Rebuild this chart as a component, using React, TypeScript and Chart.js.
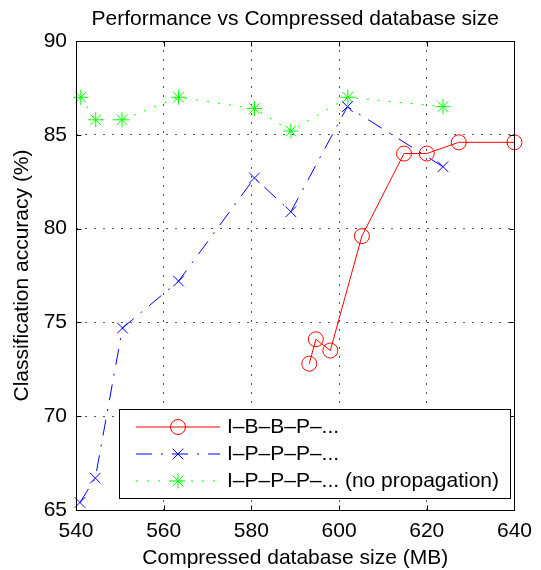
import React, { useEffect, useRef } from "react";
import { Chart, registerables } from "chart.js";

Chart.register(...registerables);

const chartTitle = "Performance vs Compressed database size";
const xAxisTitle = "Compressed database size (MB)";
const yAxisTitle = "Classification accuracy (%)";

const xTicks = [540, 560, 580, 600, 620, 640];
const yTicks = [65, 70, 75, 80, 85, 90];

const seriesLabels = [
  "I\u2013B\u2013B\u2013P\u2013...",
  "I\u2013P\u2013P\u2013P\u2013...",
  "I\u2013P\u2013P\u2013P\u2013... (no propagation)",
];

const ibbpSize = [593.2, 594.7, 598.0, 605.2, 614.8, 620.0, 627.3, 640.0];
const ibbpAcc = [72.8, 74.1, 73.5, 79.6, 84.0, 84.0, 84.6, 84.6];

const ipppSize = [540.9, 544.4, 550.6, 563.4, 580.7, 589.0, 601.9, 623.7];
const ipppAcc = [65.4, 66.7, 74.7, 77.2, 82.7, 80.9, 86.5, 83.3];

const noPropSize = [541.1, 544.5, 550.5, 563.4, 580.7, 589.0, 602.0, 623.7];
const noPropAcc = [87.0, 85.8, 85.8, 87.0, 86.4, 85.2, 87.0, 86.5];

const FONT = "'Liberation Sans', Arial, Helvetica, sans-serif";
const FS = 21;

const toPoints = (xs: number[], ys: number[]) => xs.map((x, i) => ({ x, y: ys[i] }));

const styles = [
  { color: "#ff0000", dash: [] as number[], marker: "circle" },
  { color: "#0000ff", dash: [16, 9, 2, 9], marker: "crossRot" },
  { color: "#00ff00", dash: [2, 9], marker: "star" },
];

function drawMarker(ctx: CanvasRenderingContext2D, kind: string, x: number, y: number, r: number, color: string) {
  ctx.save();
  ctx.strokeStyle = color;
  ctx.lineWidth = 1;
  ctx.setLineDash([]);
  ctx.beginPath();
  if (kind === "circle") {
    ctx.arc(x, y, r, 0, Math.PI * 2);
  } else {
    const d = r * Math.cos(Math.PI / 4);
    ctx.moveTo(x - d, y - d); ctx.lineTo(x + d, y + d);
    ctx.moveTo(x - d, y + d); ctx.lineTo(x + d, y - d);
    if (kind === "star") {
      ctx.moveTo(x - r, y); ctx.lineTo(x + r, y);
      ctx.moveTo(x, y - r); ctx.lineTo(x, y + r);
    }
  }
  ctx.stroke();
  ctx.restore();
}

const framePlugin = {
  id: "frameAndLegend",
  afterDraw(chart: any) {
    const { ctx, chartArea } = chart;
    const { left, right, top, bottom } = chartArea;
    const xs = chart.scales.x;
    const ys = chart.scales.y;
    ctx.save();
    ctx.strokeStyle = "#000";
    ctx.lineWidth = 1;
    ctx.setLineDash([]);
    const L = Math.round(left) + 0.5, R = Math.round(right) + 0.5;
    const T = Math.round(top) + 0.5, B = Math.round(bottom) + 0.5;
    ctx.strokeRect(L, T, R - L, B - T);
    const tl = 5;
    ctx.beginPath();
    xs.ticks.forEach((t: any) => {
      const px = Math.round(xs.getPixelForValue(t.value)) + 0.5;
      ctx.moveTo(px, B); ctx.lineTo(px, B - tl);
      ctx.moveTo(px, T); ctx.lineTo(px, T + tl);
    });
    ys.ticks.forEach((t: any) => {
      const py = Math.round(ys.getPixelForValue(t.value)) + 0.5;
      ctx.moveTo(L, py); ctx.lineTo(L + tl, py);
      ctx.moveTo(R, py); ctx.lineTo(R - tl, py);
    });
    ctx.stroke();

    // legend
    const bx = 119.5, by = 409.5, bw = 391, bh = 89;
    ctx.fillStyle = "#fff";
    ctx.fillRect(bx, by, bw, bh);
    ctx.strokeRect(bx, by, bw, bh);
    const rowsY = [427, 454, 481];
    chart.data.datasets.forEach((ds: any, i: number) => {
      const st = styles[i];
      const y = rowsY[i];
      ctx.save();
      ctx.strokeStyle = st.color;
      ctx.lineWidth = 1;
      ctx.setLineDash(st.dash);
      ctx.beginPath();
      ctx.moveTo(136, y);
      ctx.lineTo(220, y);
      ctx.stroke();
      ctx.restore();
      drawMarker(ctx, st.marker, 178, y, 7.5, st.color);
      ctx.fillStyle = "#000";
      ctx.font = `${FS}px ${FONT}`;
      ctx.textBaseline = "middle";
      ctx.textAlign = "left";
      ctx.fillText(ds.label, 227, y);
    });
    ctx.restore();
  },
};

export default function App() {
  const ref = useRef<HTMLCanvasElement>(null);
  useEffect(() => {
    if (!ref.current) return;
    const datasets = [
      toPoints(ibbpSize, ibbpAcc),
      toPoints(ipppSize, ipppAcc),
      toPoints(noPropSize, noPropAcc),
    ].map((data, i) => ({
      label: seriesLabels[i],
      data,
      borderColor: styles[i].color,
      backgroundColor: "transparent",
      borderWidth: 1,
      borderDash: styles[i].dash,
      pointStyle: styles[i].marker,
      pointRadius: 7.5,
      pointBorderColor: styles[i].color,
      pointBackgroundColor: "transparent",
      pointBorderWidth: 1,
      tension: 0,
      clip: false as any,
    }));
    const chart = new Chart(ref.current, {
      type: "line",
      data: { datasets },
      plugins: [framePlugin],
      options: {
        animation: false,
        responsive: false,
        layout: { padding: { left: 0, right: 18, top: 0, bottom: 0 } },
        plugins: {
          legend: { display: false },
          tooltip: { enabled: false },
          title: {
            display: true,
            fullSize: false,
            text: chartTitle,
            color: "#000",
            font: { family: FONT, size: FS, weight: "normal" },
            padding: { top: 7, bottom: 8.8 },
          },
        },
        scales: {
          x: {
            type: "linear",
            min: 540,
            max: 640,
            afterBuildTicks: (s: any) => { s.ticks = xTicks.map((v) => ({ value: v })); },
            afterFit: (s: any) => { s.height = 60; },
            grid: { color: "#555", lineWidth: 1, drawTicks: false },
            border: { display: false, dash: [2, 7] },
            ticks: { color: "#000", padding: 9, font: { family: FONT, size: FS }, maxRotation: 0 },
            title: { display: true, text: xAxisTitle, color: "#000", font: { family: FONT, size: FS }, padding: { top: 0, bottom: -1 } },
          },
          y: {
            type: "linear",
            min: 65,
            max: 90,
            afterBuildTicks: (s: any) => { s.ticks = yTicks.map((v) => ({ value: v })); },
            afterFit: (s: any) => { s.width = 76; },
            grid: { color: "#555", lineWidth: 1, drawTicks: false },
            border: { display: false, dash: [2, 7] },
            ticks: { color: "#000", padding: 9, font: { family: FONT, size: FS } },
            title: { display: true, text: yAxisTitle, color: "#000", font: { family: FONT, size: FS }, padding: { top: 10, bottom: 0 } },
          },
        },
      },
    } as any);
    return () => chart.destroy();
  }, []);
  return (
    <div style={{ position: "absolute", left: 0, top: 0, width: 541, height: 570, background: "#fff" }}>
      <canvas ref={ref} width={541} height={570} />
    </div>
  );
}
